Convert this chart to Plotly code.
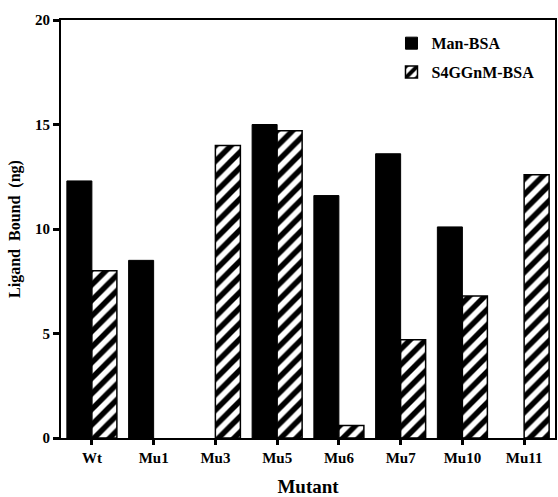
import plotly.graph_objects as go

categories = ["Wt", "Mu1", "Mu3", "Mu5", "Mu6", "Mu7", "Mu10", "Mu11"]
man_bsa = [12.3, 8.5, 0, 15.0, 11.6, 13.6, 10.1, 0]
s4ggnm_bsa = [8.0, 0, 14.0, 14.7, 0.6, 4.7, 6.8, 12.6]
y_ticks = [0, 5, 10, 15, 20]

fig = go.Figure()
fig.add_trace(go.Bar(
    x=categories, y=man_bsa, name="<b>Man-BSA</b>", legendgroup="a",
    marker=dict(color="black",
                line=dict(color="black", width=[0 if v == 0 else 1 for v in man_bsa])),
))
fig.add_trace(go.Bar(
    x=categories, y=s4ggnm_bsa, name="<b>S4GGnM-BSA</b>", legendgroup="b",
    marker=dict(color="white",
                line=dict(color="black", width=[0 if v == 0 else 1.5 for v in s4ggnm_bsa]),
                pattern=dict(shape="/", fgcolor="black", bgcolor="white",
                             fgopacity=1, size=11, solidity=0.5)),
))

fig.update_layout(
    width=558, height=497,
    margin=dict(l=61, r=3, t=20, b=59, autoexpand=False),
    paper_bgcolor="white", plot_bgcolor="white",
    barmode="group", bargap=0.19, bargroupgap=0,
    font=dict(family="Liberation Serif", size=15, color="black"),
    showlegend=True,
    legend=dict(x=0.669, y=0.985, xanchor="left", yanchor="top",
                bgcolor="rgba(0,0,0,0)", borderwidth=0,
                font=dict(family="Liberation Serif", size=16, color="black"),
                itemwidth=30, tracegroupgap=5),
    xaxis=dict(
        range=[-0.5, 7.5], automargin=False,
        tickvals=categories,
        ticktext=["<b>%s</b>" % c for c in categories],
        ticks="outside", ticklen=5, tickwidth=2.5, tickcolor="black",
        showline=True, linecolor="black", linewidth=2, mirror=True,
        showgrid=False, zeroline=False,
        tickfont=dict(family="Liberation Serif", size=15, color="black"),
        title=dict(text="<b>Mutant</b>", standoff=16,
                   font=dict(family="Liberation Serif", size=19, color="black")),
    ),
    yaxis=dict(
        range=[0, 20], automargin=False,
        tickvals=y_ticks,
        ticktext=["<b>%d</b>" % v for v in y_ticks],
        ticks="outside", ticklen=6, tickwidth=2.5, tickcolor="black",
        showline=True, linecolor="black", linewidth=2, mirror=True,
        showgrid=False, zeroline=False,
        tickfont=dict(family="Liberation Serif", size=15, color="black"),
        title=dict(text="<b>Ligand  Bound  (ng)</b>", standoff=10,
                   font=dict(family="Liberation Serif", size=16, color="black")),
    ),
)

fig.write_html("out.html", config={"displayModeBar": False},
               post_script="document.body.style.margin='0px';document.body.style.overflow='hidden';")
